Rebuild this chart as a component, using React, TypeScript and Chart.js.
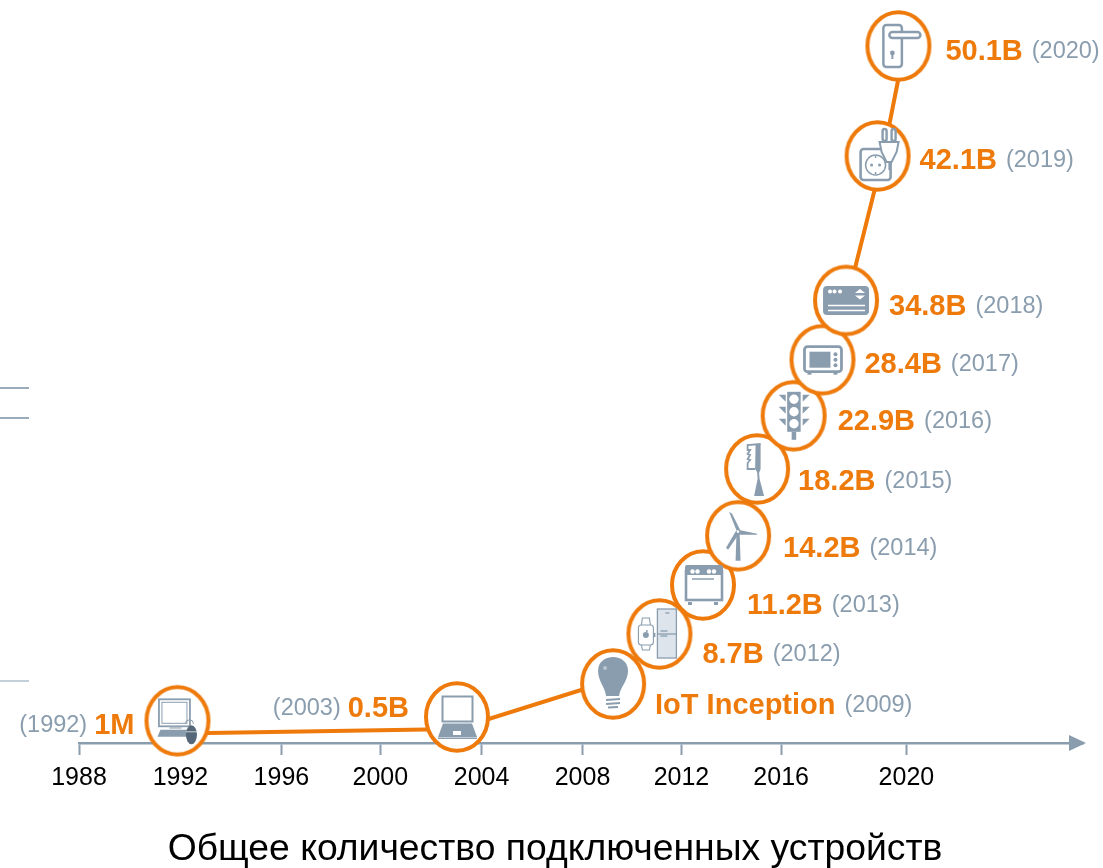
import React, { useEffect, useRef } from "react";
import { Chart, registerables } from "chart.js";

Chart.register(...registerables);

// ---- data ----
const tickPositions = [1988, 1992.05, 1996.08, 2000.03, 2004.07, 2008.1, 2012.05, 2016.03, 2021.03];
const tickLabels = ["1988", "1992", "1996", "2000", "2004", "2008", "2012", "2016", "2020"];

const markerX = [1991.93, 2003.09, 2009.32, 2011.17, 2012.91, 2014.31, 2015.07, 2016.53, 2017.68, 2018.62, 2019.88, 2020.71];
const markerH = [22.2, 26, 59, 109, 158, 207.2, 274, 327.2, 383.3, 442.5, 587, 697];

const lineX = [1991.93, 2003.09, 2009.32, 2011.17, 2012.91, 2014.31, 2015.07, 2016.53, 2017.68, 2018.66, 2020.1, 2020.97];
const lineH = [9.4, 14, 63, 109, 158, 207.2, 274, 327.2, 383.3, 443, 587, 697];

const valueLabels = ["1M", "0.5B", "IoT Inception", "8.7B", "11.2B", "14.2B", "18.2B", "22.9B", "28.4B", "34.8B", "42.1B", "50.1B"];
const yearLabels = ["(1992)", "(2003)", "(2009)", "(2012)", "(2013)", "(2014)", "(2015)", "(2016)", "(2017)", "(2018)", "(2019)", "(2020)"];
const iconNames = ["computer", "laptop", "bulb", "fridge", "oven", "turbine", "brush", "traffic", "microwave", "card", "socket", "handle"];

const stubHeights = [355, 325, 62];

const titleText = "Общее количество подключенных устройств";

// ---- style ----
const ORANGE = "#EE7A0B";
const GREY = "#8A9DAE";
const DARK = "#566779";
const PALE = "#DDE4EC";
const FONT = '"Liberation Sans", Arial, sans-serif';
const labelDx = [-43, -48, 42, 43, 44, 45, 41, 44, 42, 43, 42, 47];
const labelDy = [5, -8, 22, 21, 21, 13, 13, 6, 5, 6, 5, 6];
const stubColors = ["#9AACBC", "#9AACBC", "#C3CFD9"];

type C = CanvasRenderingContext2D;

function rr(c: C, x: number, y: number, w: number, h: number, r: number | number[]) {
  c.beginPath();
  c.roundRect(x, y, w, h, r);
}
function poly(c: C, pts: number[]) {
  c.beginPath();
  c.moveTo(pts[0], pts[1]);
  for (let i = 2; i < pts.length; i += 2) c.lineTo(pts[i], pts[i + 1]);
  c.closePath();
}
function dot(c: C, x: number, y: number, r: number) {
  c.beginPath();
  c.arc(x, y, r, 0, Math.PI * 2);
  c.fill();
}
function seg(c: C, x1: number, y1: number, x2: number, y2: number) {
  c.beginPath();
  c.moveTo(x1, y1);
  c.lineTo(x2, y2);
  c.stroke();
}

function makeRing() {
  const cv = document.createElement("canvas");
  cv.width = 70;
  cv.height = 76;
  const c = cv.getContext("2d") as C;
  c.beginPath();
  c.ellipse(35, 38, 31, 33.7, 0, 0, Math.PI * 2);
  c.fillStyle = "#fff";
  c.fill();
  c.lineWidth = 4;
  c.strokeStyle = ORANGE;
  c.stroke();
  return cv;
}

const icons: Record<string, (c: C) => void> = {
  computer(c) {
    c.lineWidth = 1.8;
    c.strokeRect(-18.5, -21.5, 31, 27);
    c.lineWidth = 1;
    c.strokeRect(-15.5, -18.5, 25, 21);
    c.fillStyle = "#B4C1CD";
    c.fillRect(-8, 6, 12, 2);
    c.fillStyle = GREY;
    poly(c, [-17, 9, 10, 9, 12, 16, -20, 16]);
    c.fill();
    c.lineWidth = 1;
    c.beginPath();
    c.arc(12, 3, 4, Math.PI, 0);
    c.stroke();
    c.fillStyle = DARK;
    c.beginPath();
    c.ellipse(14, 14, 5.5, 9.5, 0, 0, Math.PI * 2);
    c.fill();
    c.strokeStyle = "#fff";
    c.lineWidth = 0.7;
    seg(c, 8.5, 11, 19.5, 11);
  },
  laptop(c) {
    c.lineWidth = 2;
    c.strokeRect(-14.5, -20.5, 30, 25);
    poly(c, [-14, 6.5, 15, 6.5, 20, 20, -19, 20]);
    c.fill();
    c.fillRect(-19, 20.5, 39, 1.5);
    c.fillStyle = "#fff";
    c.fillRect(-4, 14, 8, 4);
  },
  bulb(c) {
    c.beginPath();
    c.moveTo(-7, 12);
    c.bezierCurveTo(-8, 3, -15, -3, -15, -13);
    c.bezierCurveTo(-15, -22, -8, -27, 0, -27);
    c.bezierCurveTo(8, -27, 15, -22, 15, -13);
    c.bezierCurveTo(15, -3, 7, 3, 6, 12);
    c.closePath();
    c.fill();
    c.fillStyle = "#B9C5D0";
    dot(c, -8, -16, 2);
    c.strokeStyle = GREY;
    c.lineWidth = 2.2;
    seg(c, -7, 16, 7, 15);
    seg(c, -7, 20, 7, 19);
    seg(c, -5, 23.5, 5, 23);
  },
  fridge(c) {
    c.fillStyle = PALE;
    c.fillRect(-2, -25, 19, 49);
    c.lineWidth = 1.3;
    c.strokeRect(-2, -25, 19, 49);
    seg(c, -2, 0, 17, 0);
    seg(c, 1, -3, 8, -3);
    seg(c, 1, 2, 8, 2);
    seg(c, 6, -21, 10, -21);
    c.lineWidth = 1.1;
    rr(c, -21, -9, 15, 20, 3);
    c.stroke();
    c.beginPath();
    c.moveTo(-18, -9);
    c.lineTo(-17, -16);
    c.lineTo(-10, -16);
    c.lineTo(-9, -9);
    c.moveTo(-18, 11);
    c.lineTo(-17, 16);
    c.lineTo(-10, 16);
    c.lineTo(-9, 11);
    c.stroke();
    c.fillStyle = GREY;
    c.fillRect(-5.5, -1, 1.5, 4);
    dot(c, -13.5, 1, 3);
    dot(c, -12.5, -3, 1);
  },
  oven(c) {
    c.lineWidth = 2.6;
    c.strokeRect(-17, -14, 36, 29);
    rr(c, -18, -20, 38, 10, [2, 2, 0, 0]);
    c.fill();
    c.fillRect(-15, 17, 4, 3);
    c.fillRect(11, 17, 4, 3);
    c.fillStyle = "#fff";
    [-10.5, -5.5, 6, 11].forEach((x) => dot(c, x, -13.5, 2.2));
    c.lineWidth = 1.5;
    seg(c, -11, -6, 11, -6);
  },
  turbine(c) {
    poly(c, [-1.5, -4, 1.5, -4, 2.5, 25, -2.5, 25]);
    c.fill();
    poly(c, [-1.5, -5, -9, -24, -6, -22, 2, -6]);
    c.fill();
    poly(c, [0, -6, 19, -2, 19, -1, 0, -1]);
    c.fill();
    poly(c, [-2, -5, -12, 12, -10, 14, 1, -2]);
    c.fill();
    c.fillStyle = "#fff";
    dot(c, 0, -4, 1.2);
  },
  brush(c) {
    c.lineWidth = 1.8;
    c.beginPath();
    c.moveTo(3.5, -25);
    c.lineTo(-9.5, -24);
    c.lineTo(-9.5, -19);
    c.lineTo(-7, -19);
    c.lineTo(-9.5, -15);
    c.lineTo(-7, -14);
    c.lineTo(-9.5, -10);
    c.lineTo(-7, -9);
    c.lineTo(-9.5, -6);
    c.lineTo(-9.5, 0);
    c.lineTo(-2, 0);
    c.stroke();
    poly(c, [-1.5, -25, 3.5, -25, 3.5, 0, 2, 4, 2.5, 10, 7, 27, -3, 27, 0.5, 10, 0, 3, -2, 0]);
    c.fill();
  },
  traffic(c) {
    c.fillRect(-6.5, -24, 13.5, 40);
    c.fillRect(-2, 16, 4.5, 8);
    [-21, -9, 3].forEach((y) => {
      poly(c, [-15, y, -8, y, -8, y + 7]);
      c.fill();
      poly(c, [16, y, 9, y, 9, y + 7]);
      c.fill();
    });
    c.fillStyle = "#fff";
    [-16.5, -4, 8].forEach((y) => dot(c, 0.3, y, 4.7));
  },
  microwave(c) {
    c.lineWidth = 2.8;
    rr(c, -18, -13, 37, 25, 3);
    c.stroke();
    c.fillRect(-13, -8, 21, 16);
    [-5.5, 0, 5.5].forEach((y) => dot(c, 13, y, 2));
    c.fillRect(-15, 13, 4, 2);
    c.fillRect(11, 13, 4, 2);
  },
  card(c) {
    rr(c, -23, -14.5, 46, 29, 4);
    c.fill();
    c.fillStyle = "#fff";
    [-16, -11.5, -6].forEach((x) => dot(c, x, -9, 2));
    poly(c, [9, -7.5, 14, -11.5, 19, -7.5]);
    c.fill();
    poly(c, [9, -5, 19, -5, 14, -1]);
    c.fill();
    c.strokeStyle = "#fff";
    c.lineWidth = 1.4;
    seg(c, -18, 5, 19, 5);
    seg(c, -18, 10, 19, 10);
  },
  socket(c) {
    c.lineWidth = 2.6;
    rr(c, -17, -7, 30, 31, 3);
    c.stroke();
    c.lineWidth = 1.5;
    c.beginPath();
    c.arc(-2, 9, 10, 0, Math.PI * 2);
    c.stroke();
    dot(c, -6, 9, 1.5);
    dot(c, 2, 9, 1.5);
    seg(c, -2, 0, -2, 2);
    seg(c, -2, 16, -2, 18);
    c.fillStyle = "#fff";
    poly(c, [2, -14, 21, -14, 19, -4, 14, 6, 9, 6, 4, -4]);
    c.fill();
    c.lineWidth = 2;
    c.stroke();
    c.lineWidth = 2.4;
    rr(c, 5, -27, 4, 12, 2);
    c.stroke();
    rr(c, 14, -27, 4, 12, 2);
    c.stroke();
    seg(c, 12, 6, 12, 14);
  },
  handle(c) {
    c.lineWidth = 2.5;
    rr(c, -15, -21, 18.5, 42, 3);
    c.stroke();
    c.fillStyle = "#fff";
    rr(c, -9, -14, 31, 6, 3);
    c.fill();
    c.stroke();
    c.fillStyle = GREY;
    dot(c, -6, 7, 2.4);
    c.fillRect(-7, 7, 2, 6);
  },
};

const decorPlugin = {
  id: "decor",
  afterDraw(chart: any) {
    const { ctx: c, scales, chartArea } = chart;
    const x = scales.x;
    const y = scales.y;
    c.save();
    // arrow head at the end of the axis
    c.fillStyle = GREY;
    c.beginPath();
    c.moveTo(chartArea.right - 14, chartArea.bottom - 8);
    c.lineTo(chartArea.right + 3, chartArea.bottom);
    c.lineTo(chartArea.right - 14, chartArea.bottom + 8);
    c.closePath();
    c.fill();
    // stray rule stubs on the left
    c.lineWidth = 2;
    stubHeights.forEach((h, i) => {
      const py = y.getPixelForValue(h);
      c.strokeStyle = stubColors[i];
      c.beginPath();
      c.moveTo(0, py);
      c.lineTo(29, py);
      c.stroke();
    });
    // icons and labels
    markerX.forEach((v, i) => {
      const px = x.getPixelForValue(v);
      const py = y.getPixelForValue(markerH[i]);
      c.save();
      c.translate(px, py);
      c.fillStyle = GREY;
      c.strokeStyle = GREY;
      icons[iconNames[i]](c);
      c.restore();

      const dx = labelDx[i];
      const ty = py + labelDy[i];
      c.textBaseline = "middle";
      const bold = `bold 29px ${FONT}`;
      const thin = `23.5px ${FONT}`;
      if (dx < 0) {
        c.textAlign = "right";
        c.font = bold;
        c.fillStyle = ORANGE;
        c.fillText(valueLabels[i], px + dx, ty);
        const w = c.measureText(valueLabels[i]).width;
        c.font = thin;
        c.fillStyle = GREY;
        c.fillText(yearLabels[i], px + dx - w - 7, ty);
      } else {
        c.textAlign = "left";
        c.font = bold;
        c.fillStyle = ORANGE;
        c.fillText(valueLabels[i], px + dx, ty);
        const w = c.measureText(valueLabels[i]).width;
        c.font = thin;
        c.fillStyle = GREY;
        c.fillText(yearLabels[i], px + dx + w + 9, ty);
      }
    });
    c.restore();
  },
};

export default function App() {
  const ref = useRef<HTMLCanvasElement>(null);
  useEffect(() => {
    const chart = new Chart(ref.current as HTMLCanvasElement, {
      type: "scatter",
      plugins: [decorPlugin],
      data: {
        datasets: [
          {
            label: "markers",
            data: markerX.map((x, i) => ({ x, y: markerH[i] })),
            showLine: false,
            pointStyle: makeRing(),
            pointRadius: 30,
            clip: false,
          },
          {
            label: "connected devices",
            data: lineX.map((x, i) => ({ x, y: lineH[i] })),
            showLine: true,
            borderColor: ORANGE,
            borderWidth: 4,
            pointRadius: 0,
            tension: 0,
            clip: false,
          },
        ],
      },
      options: {
        responsive: false,
        animation: false,
        layout: { autoPadding: false, padding: { left: 27, right: 20, top: 0, bottom: 0 } },
        plugins: {
          legend: { display: false },
          tooltip: { enabled: false },
          title: {
            display: true,
            text: titleText,
            position: "bottom",
            color: "#000",
            font: { family: FONT, size: 37.3, weight: "normal", lineHeight: 1 },
            padding: 0,
          },
        },
        scales: {
          x: {
            type: "linear",
            min: 1988,
            max: 2028.08,
            afterBuildTicks(axis: any) {
              axis.ticks = tickPositions.map((value) => ({ value }));
            },
            afterFit(s: any) {
              s.height = 87.7;
            },
            ticks: {
              autoSkip: false,
              maxRotation: 0,
              color: "#000",
              padding: 8,
              font: { family: FONT, size: 25 },
              callback: (_v: any, i: number) => tickLabels[i],
            },
            grid: { drawOnChartArea: false, drawTicks: true, tickLength: 12, tickWidth: 2, tickColor: GREY },
            border: { color: GREY, width: 2.5 },
          },
          y: {
            min: 0,
            max: 743,
            afterFit(s: any) {
              s.width = 52;
            },
            ticks: { display: false },
            grid: { display: false },
            border: { display: false },
          },
        },
      },
    } as any);
    return () => chart.destroy();
  }, []);
  return (
    <div style={{ position: "absolute", left: 0, top: 0, width: 1103, height: 868, background: "#fff" }}>
      <canvas ref={ref} width={1103} height={868} style={{ display: "block" }} />
    </div>
  );
}
